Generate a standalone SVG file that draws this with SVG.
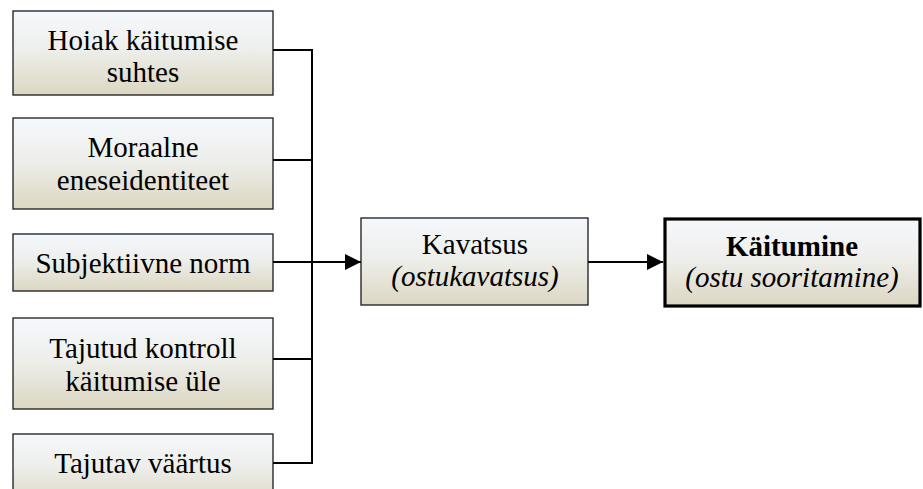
<svg xmlns="http://www.w3.org/2000/svg" width="923" height="489" viewBox="0 0 923 489">
<defs>
<linearGradient id="g" x1="0" y1="0" x2="0" y2="1">
<stop offset="0" stop-color="#f5f8fc"/>
<stop offset="0.45" stop-color="#eeefec"/>
<stop offset="1" stop-color="#dcd7c2"/>
</linearGradient>
<marker id="arr" viewBox="0 0 10 10" refX="10" refY="5" markerWidth="16" markerHeight="16" markerUnits="userSpaceOnUse" orient="auto">
<path d="M0,0 L10,5 L0,10 Z" fill="#000"/>
</marker>
<style>
.box{fill:url(#g);stroke:#1a1a1a;stroke-width:1.3}
.bold{fill:url(#g);stroke:#000;stroke-width:3.2}
.t{font-family:'Liberation Serif','DejaVu Serif',serif;font-size:29px;fill:#000;text-anchor:middle}
.i{font-style:italic}
.b{font-weight:bold}
.c{fill:none;stroke:#000;stroke-width:2}
</style>
</defs>
<g id="connectors">
<path class="c" d="M273,50 H312 V463 H273"/>
<path class="c" d="M273,160 H312"/>
<path class="c" d="M273,262 H312"/>
<path class="c" d="M273,359 H312"/>
<path class="c" d="M312,262 H361" marker-end="url(#arr)"/>
<path class="c" d="M588,262 H663" marker-end="url(#arr)"/>
</g>
<g class="t" font-family="Liberation Serif, DejaVu Serif, serif">
<g id="n1"><rect class="box" x="13" y="11" width="260" height="84"/><text x="143" y="50">Hoiak käitumise</text><text x="143" y="82">suhtes</text></g>
<g id="n2"><rect class="box" x="13" y="118" width="260" height="91"/><text x="143" y="157">Moraalne</text><text x="143" y="190">eneseidentiteet</text></g>
<g id="n3"><rect class="box" x="13" y="234" width="260" height="57"/><text x="143" y="273">Subjektiivne norm</text></g>
<g id="n4"><rect class="box" x="13" y="318" width="260" height="91"/><text x="143" y="358">Tajutud kontroll</text><text x="143" y="391">käitumise üle</text></g>
<g id="n5"><rect class="box" x="13" y="434" width="260" height="70"/><text x="143" y="473">Tajutav väärtus</text></g>
<g id="n6"><rect class="box" x="361" y="218" width="227" height="87"/><text x="475" y="254">Kavatsus</text><text class="i" x="475" y="286">(ostukavatsus)</text></g>
<g id="n7"><rect class="bold" x="665" y="219" width="255" height="87"/><text class="b" x="792" y="256">Käitumine</text><text class="i" x="792" y="287">(ostu sooritamine)</text></g>
</g>
</svg>
